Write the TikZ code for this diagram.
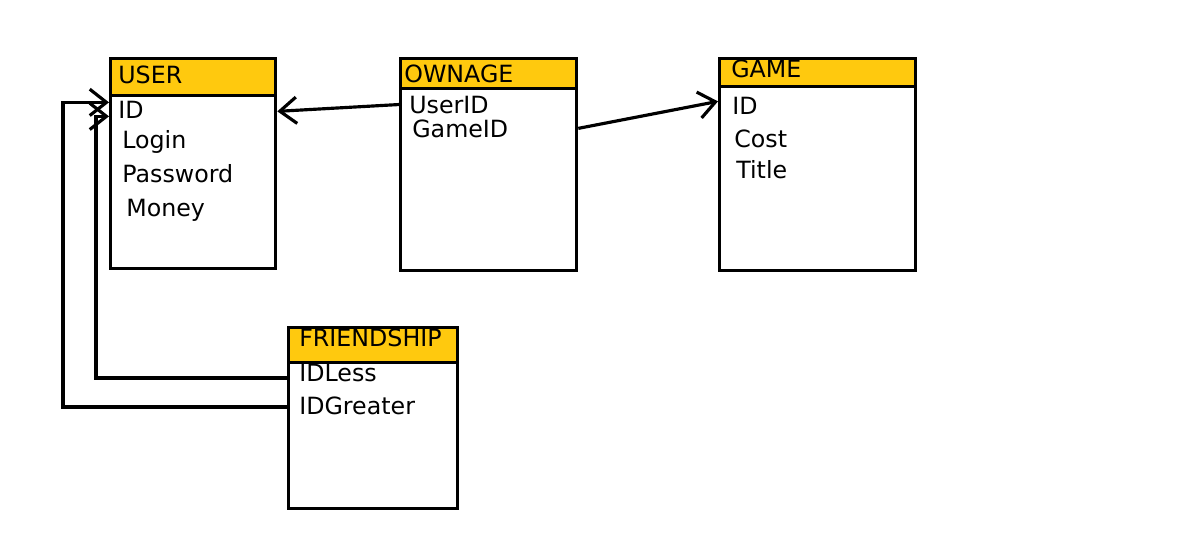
\documentclass[tikz,border=0pt]{standalone}
\usepackage{fontspec}
\setmainfont{DejaVu Sans}
\usetikzlibrary{arrows.meta}
\usetikzlibrary{calc}
\definecolor{headyellow}{RGB}{255,201,14}
% table frame: name, x, y, width, height, header height
\newcommand{\entity}[6]{%
  \node(#1head)[head,minimum width=#4,minimum height=#6] at (#2,#3) {};
  \node(#1)[box,minimum width=#4,minimum height=#5] at (#2,#3) {};}
\newcommand{\field}[3]{\node(#1)[field] at #2 {#3}}

\begin{document}
\begin{tikzpicture}[
        x=0.02cm, y=-0.02cm,
        every node/.style={font=\fontsize{13.5}{16}\selectfont},
        box/.style={rectangle,draw=black,line width=1.9pt,anchor=north west,inner sep=0pt},
        head/.style={box,fill=headyellow},
        field/.style={anchor=base west,inner sep=0pt},
        link/.style={line width=1.8pt,-{Straight Barb[length=9.5pt,width=15pt]}}
      ]
      \useasboundingbox (0,0) rectangle (1197,538);

      \entity{user}{109}{57}{3.3cm}{4.2cm}{0.74cm}
      \entity{ownage}{399}{57}{3.52cm}{4.24cm}{0.6cm}
      \entity{game}{718}{57}{3.92cm}{4.24cm}{0.56cm}
      \entity{fship}{287}{326}{3.38cm}{3.62cm}{0.7cm}

      \field{usertitle}{(118,83)}{USER};
      \field{uid}{(118,118)}{ID};
      \field{ulogin}{(122,148)}{Login};
      \field{upass}{(122,182)}{Password};
      \field{umoney}{(126,216)}{Money};

      \field{owntitle}{(404,82)}{OWNAGE};
      \field{userid}{(409,113)}{UserID};
      \field{gameid}{(412,137)}{GameID};

      \field{gametitle}{(731,77)}{GAME};
      \field{gid}{(732,114)}{ID};
      \field{gcost}{(734,147)}{Cost};
      \field{gtitle}{(736,178)}{Title};

      \field{ftitle}{(299,346)}{FRIENDSHIP};
      \field{idless}{(299,381)}{IDLess};
      \field{idgreater}{(299,414)}{IDGreater};

      % references
      \draw[link] (userid.west -| ownage.west) -- ($(uid.west -| user.east)+(0,2)$);
      \draw[link] (gameid.west -| ownage.east) -- ($(gid.west -| game.west)+(0,-4)$);
      \draw[link] ($(idless.base west -| fship.west)+(0,-3)$) -- (96,378) |- ($(uid.west -| user.west)+(0,7)$);
      \draw[link] ($(idgreater.base west -| fship.west)+(0,-7)$) -- (63,407) |- ($(uid.west -| user.west)+(0,-7)$);

    \end{tikzpicture}
\end{document}
